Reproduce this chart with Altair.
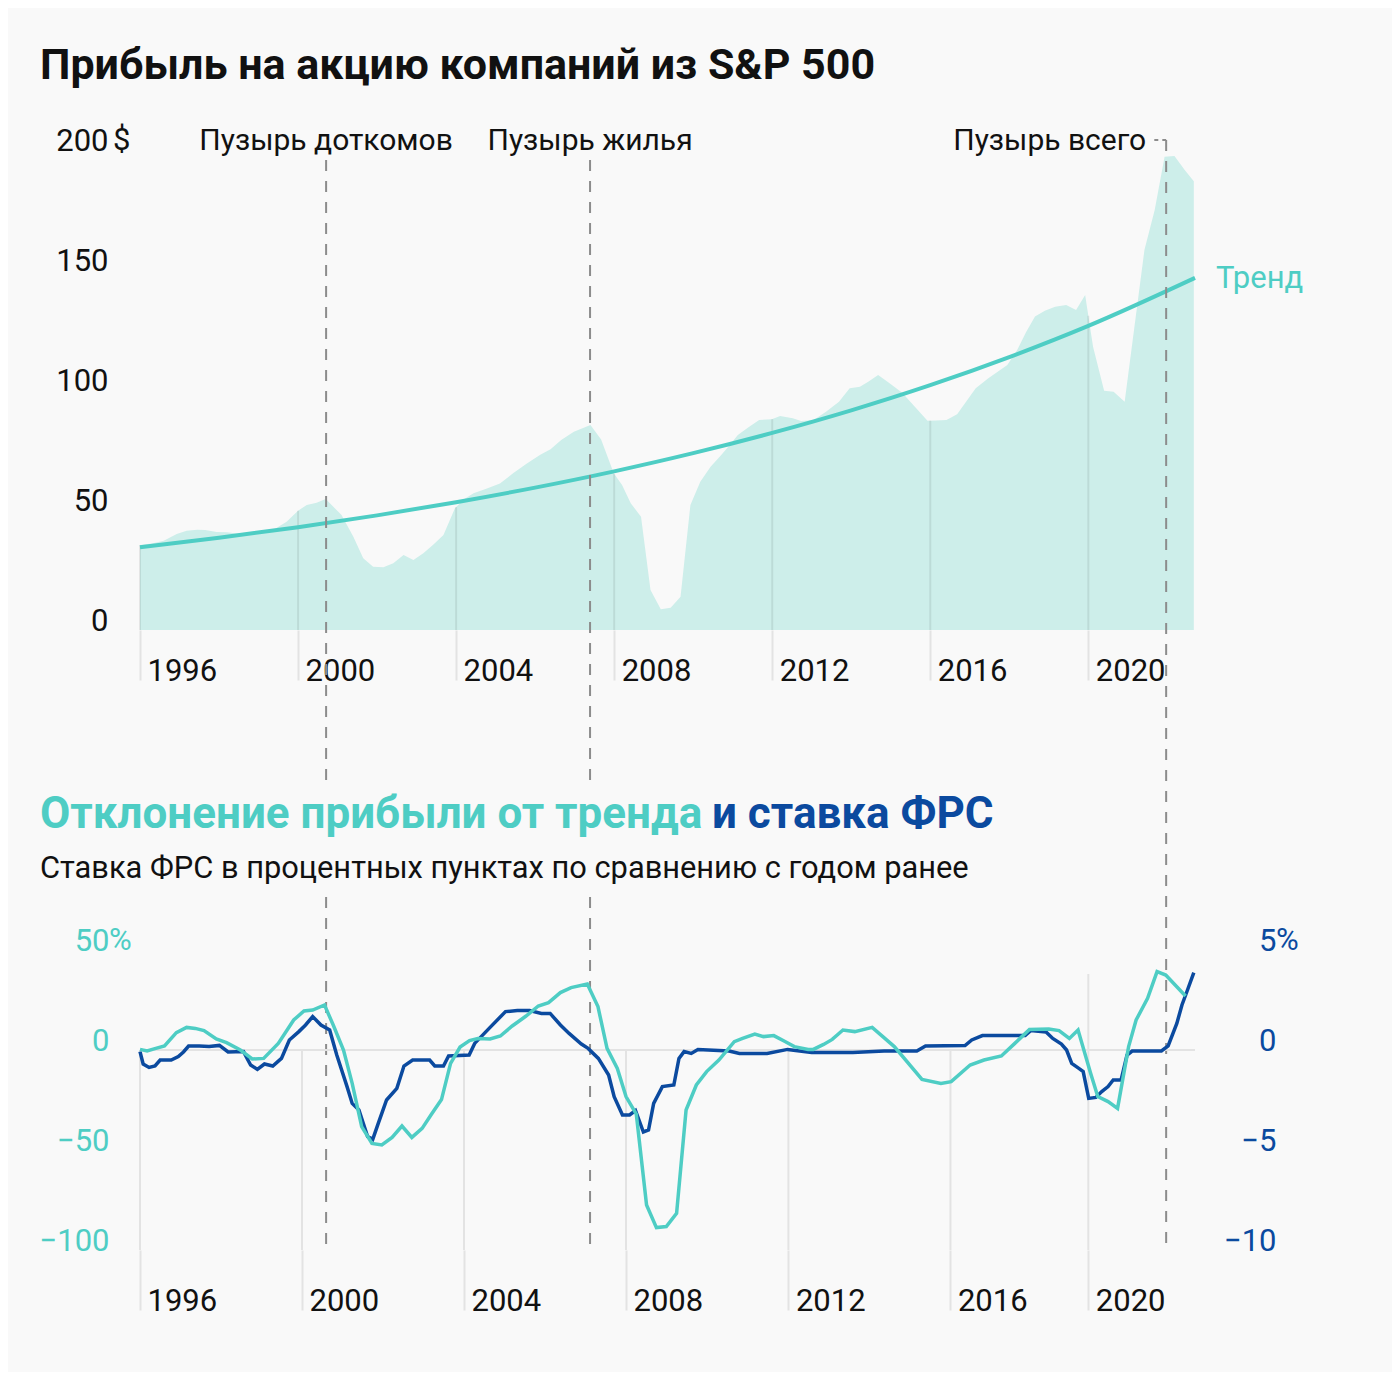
import altair as alt
import numpy as np
import pandas as pd

TEAL = "#4ecdc4"
AREA = "#cdeeea"
BLUE = "#0b4a9f"
INK = "#111111"
GRID = "#e3e3e3"
BG = "#f9f9f9"
FONT = "Roboto"

# ---- top panel: EPS (USD) ----
eps_year = [1996.0, 1996.3, 1996.6, 1996.93, 1997.18, 1997.45, 1997.65, 1997.94, 1998.2, 1998.53,
            1998.87, 1999.12, 1999.37, 1999.71, 2000.0, 2000.22, 2000.47, 2000.7, 2001.1, 2001.4,
            2001.65, 2001.9, 2002.16, 2002.41, 2002.67, 2002.92, 2003.17, 2003.42, 2003.68, 2003.97,
            2004.2, 2004.44, 2004.78, 2005.11, 2005.45, 2005.8, 2006.13, 2006.39, 2006.66, 2006.98,
            2007.4, 2007.67, 2007.99, 2008.2, 2008.42, 2008.68, 2008.92, 2009.18, 2009.43, 2009.68,
            2009.93, 2010.18, 2010.44, 2010.71, 2010.92, 2011.13, 2011.4, 2011.67, 2011.99, 2012.2,
            2012.52, 2012.73, 2013.05, 2013.37, 2013.69, 2013.96, 2014.22, 2014.44, 2014.68, 2014.97,
            2015.29, 2015.61, 2015.93, 2016.15, 2016.41, 2016.68, 2017.15, 2017.47, 2017.95, 2018.2,
            2018.42, 2018.65, 2018.9, 2019.16, 2019.44, 2019.69, 2019.92, 2020.12, 2020.4, 2020.64,
            2020.92, 2021.42, 2021.68, 2021.93, 2022.18, 2022.44, 2022.67]
eps_value = [35.4, 36.0, 37.2, 40.0, 41.4, 41.8, 41.7, 40.8, 40.7, 40.0,
             40.3, 40.8, 41.7, 45.1, 49.7, 52.1, 53.0, 54.6, 47.9, 38.9,
             29.9, 26.4, 26.1, 27.8, 31.2, 29.2, 32.0, 35.5, 39.6, 50.7,
             54.5, 57.0, 59.0, 61.0, 65.4, 69.5, 73.0, 75.3, 79.2, 82.6,
             85.4, 79.4, 65.3, 60.4, 52.8, 47.2, 16.7, 8.6, 9.3, 13.9,
             52.1, 61.8, 68.0, 72.9, 77.0, 81.2, 84.5, 87.5, 87.8, 89.2,
             88.2, 87.1, 87.5, 91.0, 95.1, 100.7, 101.4, 103.5, 106.2, 102.8,
             98.9, 93.0, 87.2, 87.3, 87.5, 89.9, 100.7, 104.9, 110.4, 116.7,
             124.0, 130.6, 133.0, 134.7, 135.4, 133.3, 139.6, 118.0, 99.7, 99.3,
             95.1, 158.3, 175.0, 197.2, 197.5, 191.7, 187.0]

trend_year = [1996, 1998, 2000, 2002, 2004, 2006, 2008, 2010, 2012, 2014, 2016, 2018, 2020, 2022.7]
trend_value = [34.5, 38.45, 42.85, 47.76, 53.23, 59.32, 66.11, 73.68, 82.12, 91.52, 102.0, 113.7, 126.7, 146.7]

top_ticks = [1996, 2000, 2004, 2008, 2012, 2016, 2020]
top_y_ticks = [0, 50, 100, 150, 200]

bubble_year = [2000.71, 2007.39, 2021.97]
bubble_label = ["Пузырь доткомов", "Пузырь жилья", "Пузырь всего"]

# ---- bottom panel ----
dev_year = [1996.0, 1996.18, 1996.4, 1996.62, 1996.92, 1997.18, 1997.4, 1997.62, 1997.93, 1998.19,
            1998.54, 1998.84, 1999.13, 1999.5, 1999.89, 2000.15, 2000.37, 2000.67, 2000.89, 2001.15,
            2001.37, 2001.61, 2001.87, 2002.12, 2002.38, 2002.63, 2002.88, 2003.14, 2003.38, 2003.63,
            2003.86, 2004.1, 2004.34, 2004.55, 2004.86, 2005.12, 2005.42, 2005.77, 2006.08, 2006.34,
            2006.64, 2006.91, 2007.32, 2007.59, 2007.82, 2008.08, 2008.3, 2008.56, 2008.82, 2009.07,
            2009.32, 2009.58, 2009.82, 2010.08, 2010.34, 2010.65, 2011.04, 2011.25, 2011.56, 2011.78,
            2012.04, 2012.3, 2012.56, 2012.91, 2013.04, 2013.3, 2013.52, 2013.79, 2014.09, 2014.53,
            2015.09, 2015.79, 2016.27, 2016.53, 2017.01, 2017.36, 2017.8, 2018.14, 2018.51, 2019.0,
            2019.26, 2019.52, 2019.74, 2020.06, 2020.24, 2020.5, 2020.74, 2021.02, 2021.21, 2021.5,
            2021.74, 2021.96, 2022.46]
dev_value = [0.3, -0.5, 0.8, 2.0, 8.7, 11.3, 10.8, 9.7, 5.5, 3.7,
             0.0, -4.5, -4.2, 3.3, 15.0, 19.5, 20.0, 22.5, 12.5, 0.0,
             -16.7, -38.3, -46.7, -47.5, -43.7, -38.0, -43.7, -39.2, -32.0, -24.8,
             -6.7, 1.5, 4.7, 5.7, 5.5, 7.0, 12.0, 17.0, 22.0, 23.7,
             28.7, 31.2, 33.0, 21.7, 0.8, -9.2, -23.3, -32.0, -77.5, -88.8,
             -88.3, -81.7, -30.0, -17.5, -10.8, -5.0, 4.2, 5.8, 8.0, 6.7,
             7.2, 4.5, 1.7, 0.3, 0.3, 2.8, 5.3, 10.0, 9.2, 11.3,
             1.7, -14.7, -16.7, -15.8, -7.5, -5.0, -3.0, 3.3, 10.3, 10.5,
             9.7, 5.8, 10.0, -11.7, -23.3, -25.8, -29.2, 1.7, 15.0, 25.8,
             39.2, 37.5, 27.0]

fed_year = [1996.0, 1996.08, 1996.23, 1996.38, 1996.51, 1996.79, 1996.97, 1997.1, 1997.23, 1997.5,
            1997.75, 1998.01, 1998.23, 1998.62, 1998.8, 1998.97, 1999.15, 1999.36, 1999.58, 1999.78,
            2000.02, 2000.19, 2000.37, 2000.58, 2000.8, 2000.98, 2001.24, 2001.37, 2001.54, 2001.76,
            2001.89, 2002.03, 2002.24, 2002.5, 2002.68, 2002.9, 2003.33, 2003.46, 2003.68, 2003.81,
            2004.33, 2004.47, 2004.86, 2005.25, 2005.55, 2005.86, 2006.16, 2006.38, 2006.64, 2006.86,
            2007.17, 2007.34, 2007.6, 2007.86, 2008.0, 2008.21, 2008.39, 2008.54, 2008.74, 2008.87,
            2009.0, 2009.22, 2009.51, 2009.64, 2009.77, 2009.95, 2010.12, 2010.91, 2011.17, 2011.87,
            2012.39, 2013.0, 2014.04, 2014.83, 2015.66, 2015.88, 2016.88, 2017.05, 2017.32, 2018.06,
            2018.4, 2018.54, 2018.93, 2019.1, 2019.32, 2019.45, 2019.58, 2019.76, 2019.87, 2020.01,
            2020.19, 2020.34, 2020.5, 2020.63, 2020.83, 2020.98, 2021.11, 2021.85, 2022.02, 2022.24,
            2022.37, 2022.51, 2022.67]
fed_value = [-0.08, -0.7, -0.87, -0.8, -0.5, -0.5, -0.33, -0.1, 0.2, 0.2,
             0.17, 0.23, -0.1, -0.08, -0.75, -0.97, -0.7, -0.8, -0.42, 0.5,
             0.92, 1.25, 1.67, 1.25, 1.0, -0.25, -1.83, -2.67, -3.0, -4.33,
             -4.47, -3.67, -2.5, -1.92, -0.8, -0.5, -0.5, -0.8, -0.8, -0.3,
             -0.25, 0.33, 1.13, 1.92, 1.97, 1.97, 1.83, 1.83, 1.25, 0.83,
             0.3, 0.08, -0.42, -1.25, -2.33, -3.25, -3.25, -3.03, -4.1, -4.0,
             -2.67, -1.83, -1.75, -0.42, -0.08, -0.17, 0.03, -0.05, -0.17, -0.17,
             0.03, -0.13, -0.13, -0.05, -0.05, 0.2, 0.22, 0.5, 0.72, 0.73,
             0.72, 0.97, 0.9, 0.58, 0.3, 0.0, -0.67, -0.92, -1.08, -2.42,
             -2.37, -2.08, -1.83, -1.5, -1.5, -0.25, -0.05, -0.05, 0.2, 1.33,
             2.25, 3.0, 3.87]

bottom_tick_pos = [1996.0, 2000.1, 2004.2, 2008.3, 2012.41, 2016.51, 2020.0]
bottom_grid_top = [0, 0, 0, 0, 0, 0, 38]
dev_ticks = [-100, -50, 0, 50]
fed_ticks = [-10, -5, 0, 5]

# ---- frames ----
eps_df = pd.DataFrame({"year": eps_year, "eps": eps_value})
trend_df = pd.DataFrame({"year": trend_year, "trend": trend_value})
tgrid_df = pd.DataFrame({"year": top_ticks,
                         "top": np.interp(top_ticks, eps_year, eps_value),
                         "base": 0.0})
bubble_df = pd.DataFrame({"year": bubble_year, "label": bubble_label})
dev_df = pd.DataFrame({"year": dev_year, "dev": dev_value})
fed_df = pd.DataFrame({"year": fed_year, "fed": fed_value})
bgrid_df = pd.DataFrame({"year": bottom_tick_pos, "top": bottom_grid_top, "base": -100.0})
one = pd.DataFrame({"a": [0]})

W = 1055
XDOM = [1996, 2022.7]
xscale = alt.Scale(domain=XDOM, nice=False, zero=False)

top_xaxis = alt.Axis(values=top_ticks, format="d", tickSize=50, tickColor=GRID, tickWidth=2,
                     domain=False, grid=False, labelAlign="left", labelBaseline="alphabetic",
                     labelPadding=0, labelOffset=7, labelFontSize=31, labelColor=INK,
                     labelFont=FONT, labelFlush=False, labelOverlap=False, title=None)
bot_xaxis = alt.Axis(values=bottom_tick_pos, labelExpr="format(round(datum.value/4)*4, 'd')",
                     tickSize=60, tickColor=GRID, tickWidth=2,
                     domain=False, grid=False, labelAlign="left", labelBaseline="alphabetic",
                     labelPadding=0, labelOffset=7, labelFontSize=31, labelColor=INK,
                     labelFont=FONT, labelFlush=False, labelOverlap=False, title=None)


def xt():
    return alt.X("year:Q", scale=xscale, axis=top_xaxis, title=None)


def xb():
    return alt.X("year:Q", scale=xscale, axis=bot_xaxis, title=None)


ytop_scale = alt.Scale(domain=[0, 200], nice=False, zero=False)
ytop_axis = alt.Axis(values=top_y_ticks, ticks=False, domain=False, grid=False, labelAlign="right",
                     labelBaseline="alphabetic", labelPadding=32, labelFontSize=31, labelColor=INK,
                     labelFont=FONT, title=None)

area = alt.Chart(eps_df).mark_area(color=AREA, opacity=1).encode(
    x=xt(), y=alt.Y("eps:Q", scale=ytop_scale, axis=ytop_axis))
tgrid = alt.Chart(tgrid_df).mark_rule(color="#000000", strokeOpacity=0.08, strokeWidth=2).encode(
    x=xt(), y=alt.Y("top:Q", scale=ytop_scale), y2="base:Q")
trend = alt.Chart(trend_df).mark_line(color=TEAL, strokeWidth=4, interpolate="monotone").encode(
    x=xt(), y=alt.Y("trend:Q", scale=ytop_scale))
trend_lbl = alt.Chart(trend_df.tail(1)).mark_text(
    text="Тренд", color=TEAL, font=FONT, fontSize=31, align="left", baseline="alphabetic",
    dx=21, dy=10).encode(x=xt(), y=alt.Y("trend:Q", scale=ytop_scale))

dash = dict(color="#8c8c8c", strokeWidth=2, strokeDash=[11, 10])
b12 = bubble_df.iloc[:2]
b3 = bubble_df.iloc[2:]
dash1 = alt.Chart(b12).mark_rule(**dash).encode(x=xt(), y=alt.value(10), y2=alt.value(633))
dash2 = alt.Chart(b12).mark_rule(**dash).encode(x=xt(), y=alt.value(747), y2=alt.value(1100))
dash3 = alt.Chart(b3).mark_rule(**dash).encode(x=xt(), y=alt.value(-10), y2=alt.value(1100))
lead = alt.Chart(b3.assign(x0=b3["year"] - 0.3)).mark_rule(
    color="#8c8c8c", strokeWidth=2, strokeDash=[4, 4]).encode(
    x=alt.X("x0:Q", scale=xscale, axis=top_xaxis), x2="year:Q", y=alt.value(-10))

lbl12 = alt.Chart(b12).mark_text(font=FONT, fontSize=30, color=INK, align="center",
                                 baseline="alphabetic").encode(
    x=xt(), y=alt.datum(200, scale=ytop_scale), text="label:N")
lbl3 = alt.Chart(b3).mark_text(font=FONT, fontSize=30, color=INK, align="right",
                               baseline="alphabetic", dx=-20).encode(
    x=xt(), y=alt.datum(200, scale=ytop_scale), text="label:N")
dollar = alt.Chart(one).mark_text(text="$", font=FONT, fontSize=31, color=INK, align="left",
                                  baseline="alphabetic").encode(
    x=alt.value(-27), y=alt.datum(200, scale=ytop_scale))
title1 = alt.Chart(one).mark_text(text="Прибыль на акцию компаний из S&P 500", font=FONT,
                                  fontSize=43, fontWeight="bold", color=INK, align="left",
                                  baseline="alphabetic").encode(x=alt.value(-100), y=alt.value(-71))
corner1 = alt.Chart(one).mark_rule(color=BG, strokeOpacity=0).encode(
    x=alt.value(-132), x2=alt.value(1252), y=alt.value(-142))

top = alt.layer(corner1, area, tgrid, trend, trend_lbl, dash1, dash2, dash3, lead,
                lbl12, lbl3, dollar, title1).properties(width=W, height=480)

# bottom panel
dev_scale = alt.Scale(domain=[-100, 50], nice=False, zero=False)
fed_scale = alt.Scale(domain=[-10, 5], nice=False, zero=False)
dev_axis = alt.Axis(orient="left", values=dev_ticks, ticks=False, domain=False, grid=False,
                    labelAlign="right", labelBaseline="alphabetic", labelPadding=31,
                    labelFontSize=31, labelColor=TEAL, labelFont=FONT, title=None)
fed_axis = alt.Axis(orient="right", values=fed_ticks, ticks=False, domain=False, grid=False,
                    labelAlign="right", labelBaseline="alphabetic", labelPadding=81,
                    labelFontSize=31, labelColor=BLUE, labelFont=FONT, title=None)

bgrid = alt.Chart(bgrid_df).mark_rule(color=GRID, strokeWidth=2).encode(
    x=xb(), y=alt.Y("top:Q", scale=dev_scale, axis=None), y2="base:Q")
zero = alt.Chart(one).mark_rule(color=GRID, strokeWidth=2).encode(
    x=alt.value(0), x2=alt.value(W), y=alt.datum(0, scale=dev_scale))
corner2 = alt.Chart(one).mark_rule(color=BG, strokeOpacity=0).encode(
    x=alt.value(-132), x2=alt.value(1252), y=alt.value(422))
groupA = alt.layer(corner2, bgrid, zero)

fed_line = alt.Chart(fed_df).mark_line(color=BLUE, strokeWidth=3.5).encode(
    x=xb(), y=alt.Y("fed:Q", scale=fed_scale, axis=fed_axis))
pct_r = alt.Chart(one).mark_text(text="%", font=FONT, fontSize=31, color=BLUE, align="left",
                                 baseline="alphabetic").encode(
    x=alt.value(W + 81), y=alt.datum(5, scale=fed_scale))
groupB = alt.layer(fed_line, pct_r)

dev_line = alt.Chart(dev_df).mark_line(color=TEAL, strokeWidth=3.5).encode(
    x=xb(), y=alt.Y("dev:Q", scale=dev_scale, axis=dev_axis))
pct_l = alt.Chart(one).mark_text(text="%", font=FONT, fontSize=31, color=TEAL, align="left",
                                 baseline="alphabetic").encode(
    x=alt.value(-31), y=alt.datum(50, scale=dev_scale))
t2a = alt.Chart(one).mark_text(text="Отклонение прибыли от тренда", font=FONT, fontSize=44,
                               fontWeight="bold", color=TEAL, align="left",
                               baseline="alphabetic").encode(x=alt.value(-100), y=alt.value(-122))
t2b = alt.Chart(one).mark_text(text="и ставка ФРС", font=FONT, fontSize=44,
                               fontWeight="bold", color=BLUE, align="left",
                               baseline="alphabetic").encode(x=alt.value(572), y=alt.value(-122))
sub2 = alt.Chart(one).mark_text(text="Ставка ФРС в процентных пунктах по сравнению с годом ранее",
                                font=FONT, fontSize=30.8, color=INK, align="left",
                                baseline="alphabetic").encode(x=alt.value(-100), y=alt.value(-72))
groupC = alt.layer(dev_line, pct_l, t2a, t2b, sub2)

bottom = alt.layer(groupA, groupB, groupC).resolve_scale(y="independent").properties(
    width=W, height=300)

chart = alt.vconcat(top, bottom, spacing=320, bounds="flush").properties(
    padding=0, background=BG
).configure(font=FONT).configure_view(stroke="transparent", strokeWidth=0)

chart.save("out.html", embed_options={"renderer": "svg", "actions": False})
